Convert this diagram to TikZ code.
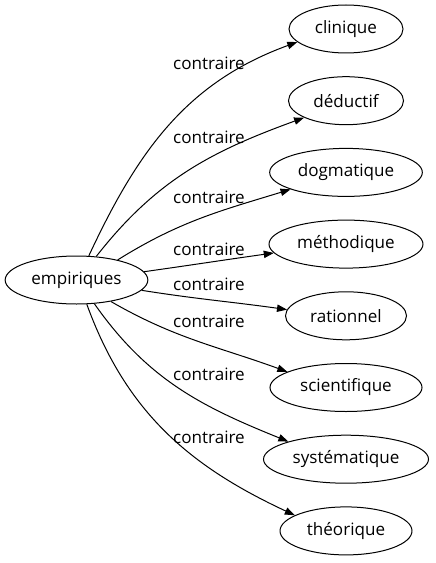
\documentclass[tikz,border=0pt]{standalone}
\usepackage{fontspec}
\setmainfont{Open Sans}
\usetikzlibrary{shapes.geometric,arrows.meta}
\tikzset{
  x=0.75pt, y=-0.75pt,
  word/.style={ellipse, draw, line width=0.75pt, inner sep=0pt, minimum height=36pt, font=\fontsize{12.8}{14}\selectfont},
  lbl/.style={inner sep=0pt, font=\fontsize{12.8}{14}\selectfont},
  rel/.style={line width=0.75pt, -{Triangle[length=7.5pt,width=5.5pt]}},
}
\begin{document}
\begin{tikzpicture}
\useasboundingbox (0,0) rectangle (435,563);
\node[word, minimum width=107pt] (e) at (76.5,280) {empiriques};
\node[word, minimum width=85.5pt] (n1) at (346,29) {clinique};
\node[word, minimum width=86.25pt] (n2) at (346,100.7) {déductif};
\node[word, minimum width=114.5pt] (n3) at (346,172.4) {dogmatique};
\node[word, minimum width=115.5pt] (n4) at (346,244.1) {méthodique};
\node[word, minimum width=90.75pt] (n5) at (346,315.8) {rationnel};
\node[word, minimum width=114pt] (n6) at (346,387.5) {scientifique};
\node[word, minimum width=123.75pt] (n7) at (346,459.2) {systématique};
\node[word, minimum width=99pt] (n8) at (346,530.9) {théorique};

\node[lbl] (l1) at (209,63) {contraire};
\node[lbl] (l2) at (209,137) {contraire};
\node[lbl] (l3) at (209,197) {contraire};
\node[lbl] (l4) at (209,249) {contraire};
\node[lbl] (l5) at (209,284) {contraire};
\node[lbl] (l6) at (209,321) {contraire};
\node[lbl] (l7) at (209,374) {contraire};
\node[lbl] (l8) at (209,437) {contraire};

\draw[rel] (e.63) to[out=65, in=200] (n1.195.6);
\draw[rel] (e.50) to[out=52, in=200] (n2.202);
\draw[rel] (e.26) to[out=32, in=197] (n3.197);
\draw[rel] (e.7) to[out=8, in=188] (n4.187);
\draw[rel] (e.-9.4) to[out=-9, in=172] (n5.174);
\draw[rel] (e.-32) to[out=-30, in=160] (n6.165.5);
\draw[rel] (e.-53.5) to[out=-55, in=158] (n7.163);
\draw[rel] (e.-67) to[out=-70, in=155] (n8.163);
\end{tikzpicture}
\end{document}
